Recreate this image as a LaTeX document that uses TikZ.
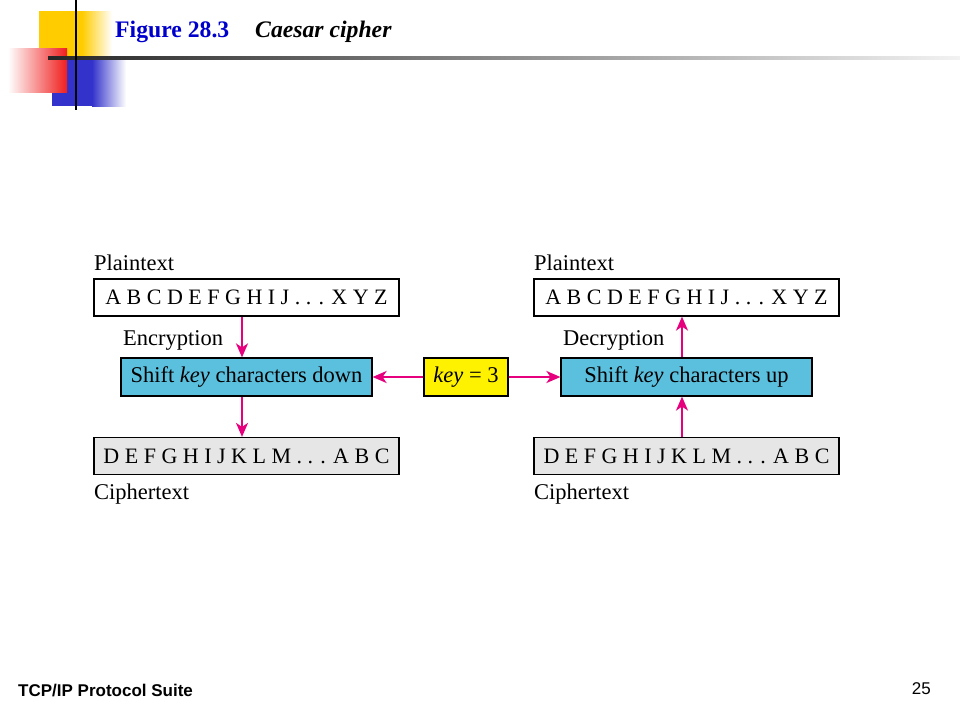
\documentclass[tikz,border=0pt]{standalone}
\usepackage{fontspec}
\setmainfont{Liberation Serif}
\newfontfamily\footfont{Liberation Sans}
\usetikzlibrary{arrows.meta}
\definecolor{pinkarr}{RGB}{230,0,126}
\definecolor{boxblue}{RGB}{91,192,222}
\definecolor{boxgray}{RGB}{230,230,230}
\definecolor{titleblue}{RGB}{0,0,204}
\definecolor{decoyellow}{RGB}{255,204,0}
\definecolor{decored}{RGB}{240,30,30}
\definecolor{decoblue}{RGB}{51,51,204}
\tikzset{
  x=1pt, y=-1pt,
  txt/.style={font=\fontsize{22.5}{26}\selectfont, inner sep=0pt},
  letterbox/.style={txt, font=\fontsize{22}{26}\selectfont, draw=black, line width=1.2pt, minimum width=305pt, minimum height=37pt},
  plainbox/.style={letterbox, fill=white},
  cipherbox/.style={letterbox, fill=boxgray},
  shiftbox/.style={txt, draw=black, line width=1.2pt, fill=boxblue, minimum width=251pt, minimum height=38pt},
  keybox/.style={txt, draw=black, line width=1.2pt, fill=yellow, minimum width=84pt, minimum height=38pt},
  lbl/.style={txt, anchor=base west},
  arr/.style={draw=pinkarr, line width=2pt, -{Stealth[length=14pt,width=12pt,inset=4pt]}},
}
\begin{document}
\begin{tikzpicture}
\useasboundingbox (0,0) rectangle (960,720);
% decorations
\fill[decoyellow] (39,11) rectangle (82,58);
\shade[left color=decoyellow, right color=white] (82,11) rectangle (112,58);
\fill[decoblue] (52,58) rectangle (92,106);
\shade[left color=decoblue, right color=white] (92,58) rectangle (126,106);
\shade[left color=white, right color=decored] (8,48) rectangle (67,92);
\shade[left color=black!85, right color=black!5] (48,56) rectangle (960,59);
\draw[black, line width=2.5pt] (76,0) -- (76,110);
% title
\node[anchor=base west, inner sep=0pt, font=\fontsize{23.7}{28}\selectfont\bfseries, text=titleblue] (title) at (115,37) {Figure 28.3};
\node[anchor=base west, inner sep=0pt, font=\fontsize{23.7}{28}\selectfont\bfseries\itshape] (subtitle) at (255,37) {Caesar cipher};
% left side
\node[plainbox] (lp) at (246.5,297.5) {A B C D E F G H I J . . . X Y Z};
\node[shiftbox] (ls) at (246.5,377) {Shift \textit{key} characters down};
\node[cipherbox] (lc) at (246.5,456) {D E F G H I J K L M . . . A B C};
\node[lbl] (lpl) at (94,270) {Plaintext};
\node[lbl] (enc) at (123,345) {Encryption};
\node[lbl] (lcl) at (94,499) {Ciphertext};
% key
\node[keybox] (key) at (466,377) {\textit{key} = 3};
% right side
\node[plainbox] (rp) at (686.5,297.5) {A B C D E F G H I J . . . X Y Z};
\node[shiftbox] (rs) at (686.5,377) {Shift \textit{key} characters up};
\node[cipherbox] (rc) at (686.5,456) {D E F G H I J K L M . . . A B C};
\node[lbl] (rpl) at (534,270) {Plaintext};
\node[lbl] (dec) at (563,345) {Decryption};
\node[lbl] (rcl) at (534,499) {Ciphertext};
% arrows
\draw[arr] ([xshift=-4.5pt]lp.south) -- ([xshift=-4.5pt]ls.north);
\draw[arr] ([xshift=-4.5pt]ls.south) -- ([xshift=-4.5pt]lc.north);
\draw[arr] (key.west) -- (ls.east);
\draw[arr] (key.east) -- (rs.west);
\draw[arr] ([xshift=-4.5pt]rc.north) -- ([xshift=-4.5pt]rs.south);
\draw[arr] ([xshift=-4.5pt]rs.north) -- ([xshift=-4.5pt]rp.south);
% footer
\node[anchor=base west, inner sep=0pt, font=\footfont\fontsize{17}{20}\selectfont\bfseries] (foot) at (18,696) {TCP/IP Protocol Suite};
\node[anchor=base east, inner sep=0pt, font=\footfont\fontsize{17}{20}\selectfont] (page) at (931,694) {25};
\end{tikzpicture}
\end{document}
